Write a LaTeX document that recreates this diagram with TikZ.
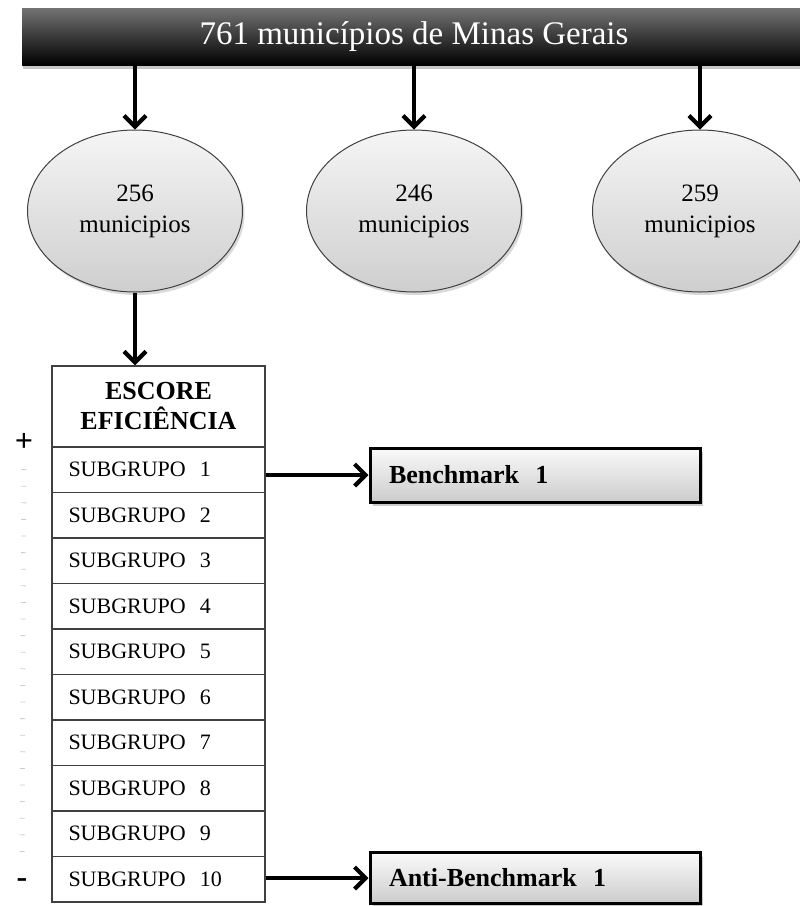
\documentclass[tikz,border=0pt]{standalone}
\usepackage{fontspec}
\setmainfont{Liberation Serif}
\usetikzlibrary{arrows.meta,shadows,shapes.geometric}
\tikzset{
  arr/.style={line width=4.2pt,-{Straight Barb[length=11pt,width=22pt,line width=4.2pt]}},
  topbar/.style={rectangle,minimum width=784pt,minimum height=57pt,inner sep=0pt,
    top color=black!55,middle color=black,bottom color=black,
    drop shadow={opacity=0.45,shadow xshift=1pt,shadow yshift=-4pt},
    text=white,font=\fontsize{33}{36}\selectfont},
  grupo/.style={ellipse,minimum width=215pt,minimum height=162pt,inner sep=0pt,
    draw=black!75,line width=1pt,top color=gray!8,bottom color=gray!38,
    drop shadow={opacity=0.3,shadow xshift=2pt,shadow yshift=-3pt},
    align=center,font=\fontsize{25}{31}\selectfont},
  cell/.style={rectangle,draw=black!75,line width=1.3pt,minimum width=213pt,inner sep=0pt},
  rowcell/.style={cell,minimum height=45.5pt,text width=180pt,align=left,
    font=\fontsize{22}{24}\selectfont},
  bench/.style={rectangle,draw=black,line width=3pt,minimum width=330pt,inner sep=0pt,
    text width=292pt,align=left,top color=gray!4,bottom color=gray!40,
    drop shadow={opacity=0.4,shadow xshift=3pt,shadow yshift=-4pt},
    font=\bfseries\fontsize{26}{28}\selectfont},
  sign/.style={inner sep=0pt,font=\bfseries\fontsize{32}{32}\selectfont},
}
\begin{document}
\begin{tikzpicture}[x=1pt,y=-1pt]
\useasboundingbox (0,0) rectangle (800,906);
\node[topbar] (bar) at (414,36.5) {761 municípios de Minas Gerais};
\node[grupo] (e1) at (135,211) {256\\municipios};
\node[grupo] (e2) at (414,211) {246\\municipios};
\node[grupo] (e3) at (700,211) {259\\municipios};
\foreach \e in {e1,e2,e3}{
  \draw[arr] (\e.north |- bar.south) -- (\e.north);
}
\node[cell,minimum height=81pt,align=center,font=\bfseries\fontsize{26}{30}\selectfont]
  (head) at (158.5,406.5) {ESCORE\\EFICIÊNCIA};
\foreach \k in {1,...,10}{
  \node[rowcell] (r\k) at (158.5,{447+45.5*(\k-0.5)}) {SUBGRUPO\hspace{0.3em} \k};
}
\draw[arr] (e1.south) -- (e1.south |- head.north);
\node[bench,minimum height=54pt] (b1) at (535,475) {Benchmark\hspace{0.3em} 1};
\node[bench,minimum height=51pt] (b2) at (535,878) {Anti-Benchmark\hspace{0.3em} 1};
\draw[arr] (b1.west -| r1.east) -- (b1.west);
\draw[arr] (b2.west -| r10.east) -- (b2.west);
\node[sign] (plus) at (24,442) {+};
\node[sign] (minus) at (22,883) {-};
\draw[gray!40,line width=5pt,dash pattern=on 0.8pt off 15.8pt] (plus.south) ++(0,18) coordinate (dtop) -- (minus.north |- r10.north) coordinate (dbot);
\end{tikzpicture}
\end{document}
